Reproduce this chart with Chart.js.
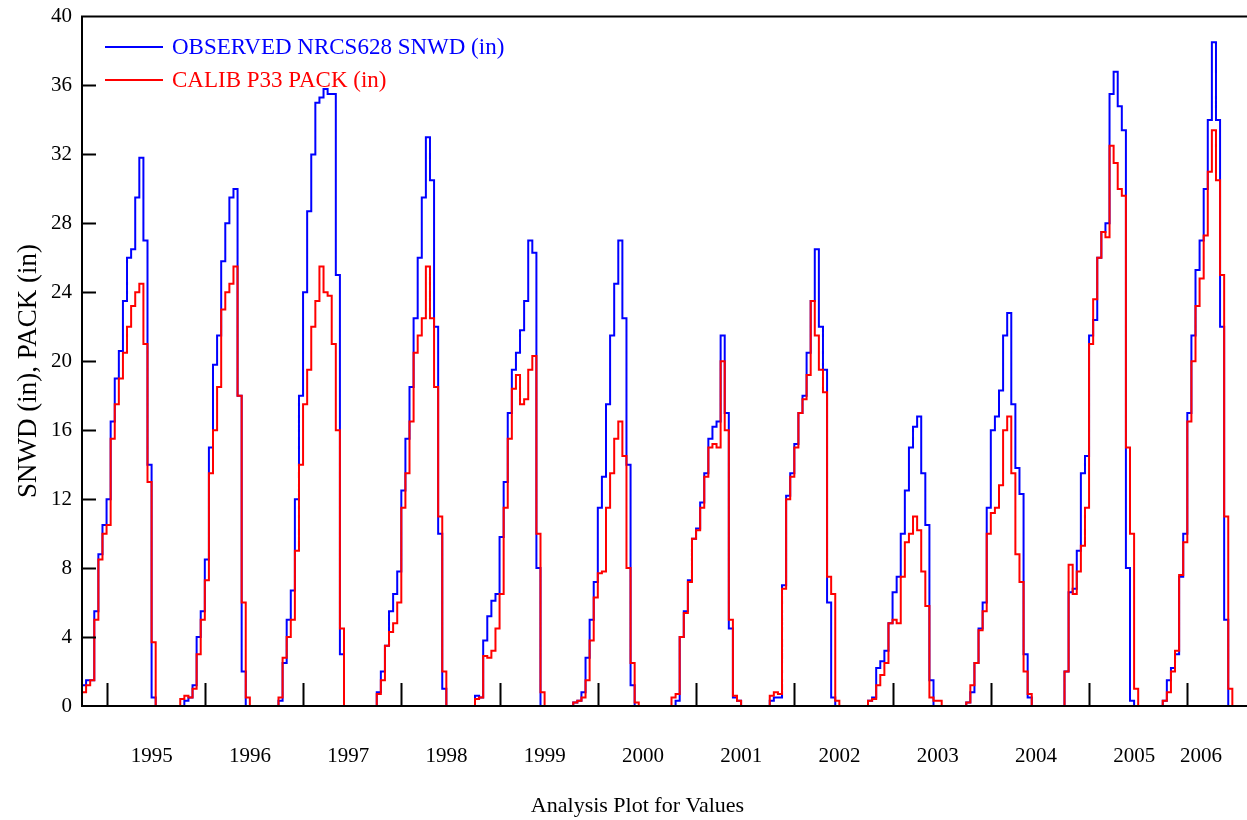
<!DOCTYPE html>
<html>
<head>
<meta charset="utf-8">
<title>SNWD vs PACK</title>
<script src="https://cdn.jsdelivr.net/npm/chart.js@4.4.1/dist/chart.umd.min.js"></script>
<style>
  html, body { margin: 0; padding: 0; background: #fff; overflow: hidden; }
  #wrap { width: 1275px; height: 820px; }
</style>
</head>
<body>
<div id="wrap"><canvas id="snowChart" width="1275" height="820"></canvas></div>
<script>
// water years shown (each season runs Oct 1 of previous year -> summer)
const waterYears = [1995, 1996, 1997, 1998, 1999, 2000, 2001, 2002, 2003, 2004, 2005, 2006];
const yearLabels = ['1995', '1996', '1997', '1998', '1999', '2000', '2001', '2002', '2003', '2004', '2005', '2006'];
const yearLabelAt = [1995.46, 1996.46, 1997.46, 1998.46, 1999.46, 2000.46, 2001.46, 2002.46, 2003.46, 2004.46, 2005.46, 2006.14];
const yTicks = [0, 4, 8, 12, 16, 20, 24, 28, 32, 36, 40];

// semi-monthly readings per season, starting Oct 1 (Oct 1, Oct 16, Nov 1, ...), inches
const observedSnwd = [
  [1.2, 1.5, 1.5, 5.5, 8.8, 10.5, 12, 16.5, 19, 20.6, 23.5, 26, 26.5, 29.5, 31.8, 27, 14, 0.5],
  [0, 0.3, 0.5, 1.2, 4.0, 5.5, 8.5, 15, 19.8, 21.5, 25.8, 28, 29.5, 30, 18, 2],
  [0.3, 2.5, 5, 6.7, 12, 18, 24, 28.7, 32, 35, 35.3, 35.8, 35.5, 35.5, 25, 3],
  [0.8, 2.0, 3.5, 5.5, 6.5, 7.8, 12.5, 15.5, 18.5, 22.5, 26, 29.5, 33, 30.5, 22, 10, 1],
  [0.6, 0.5, 3.8, 5.2, 6.1, 6.5, 9.8, 13, 17, 19.5, 20.5, 21.8, 23.5, 27, 26.3, 8, 0],
  [0.2, 0.3, 0.8, 2.8, 5.0, 7.2, 11.5, 13.3, 17.5, 21.5, 24.5, 27, 22.5, 14, 1.2],
  [0, 0.3, 4, 5.5, 7.3, 9.7, 10.3, 11.8, 13.5, 15.5, 16.2, 16.5, 21.5, 17, 4.5, 0.5, 0.3],
  [0.3, 0.5, 0.5, 7, 12.2, 13.5, 15.2, 17, 18, 20.5, 23.5, 26.5, 22, 19.5, 6, 0.5],
  [0.3, 0.5, 2.2, 2.6, 3.2, 4.8, 6.6, 7.5, 10.0, 12.5, 15.0, 16.2, 16.8, 13.5, 10.5, 1.5],
  [0.2, 0.8, 2.5, 4.5, 6.0, 11.5, 16.0, 16.8, 18.3, 21.5, 22.8, 17.5, 13.8, 12.3, 3, 0.5],
  [2.0, 6.6, 6.8, 9.0, 13.5, 14.5, 21.5, 22.4, 26, 27.5, 28, 35.5, 36.8, 34.8, 33.4, 8, 0.3],
  [0.3, 1.5, 2.2, 3.0, 7.5, 10, 17, 21.5, 25.3, 27, 30, 34, 38.5, 34, 22, 5]
];
const calibPack = [
  [0.8, 1.2, 1.5, 5.0, 8.5, 10.0, 10.5, 15.5, 17.5, 19.0, 20.5, 22.0, 23.2, 24.0, 24.5, 21.0, 13.0, 3.7],
  [0.4, 0.6, 0.5, 1.0, 3.0, 5.0, 7.3, 13.5, 16.0, 18.5, 23, 24, 24.5, 25.5, 18, 6, 0.5],
  [0.5, 2.8, 4.0, 5.0, 9.0, 14.0, 17.5, 19.5, 22.0, 23.5, 25.5, 24.0, 23.8, 21.0, 16.0, 4.5],
  [0.7, 1.5, 3.5, 4.3, 4.8, 6.0, 11.5, 13.5, 16.5, 20.5, 21.5, 22.5, 25.5, 22.5, 18.5, 11, 2],
  [0.4, 0.5, 2.9, 2.8, 3.2, 4.5, 6.5, 11.5, 15.5, 18.4, 19.2, 17.5, 17.8, 19.5, 20.3, 10, 0.8],
  [0.2, 0.3, 0.5, 1.5, 3.8, 6.3, 7.7, 7.8, 11.5, 13.5, 15.5, 16.5, 14.5, 8, 2.5, 0.2],
  [0.5, 0.7, 4, 5.4, 7.2, 9.7, 10.2, 11.5, 13.3, 15, 15.2, 15, 20, 16, 5, 0.6, 0.3],
  [0.6, 0.8, 0.7, 6.8, 12.0, 13.3, 15.0, 17.0, 17.8, 19.2, 23.5, 21.5, 19.5, 18.2, 7.5, 6.5, 0.3],
  [0.3, 0.4, 1.2, 1.8, 2.5, 4.8, 5.0, 4.8, 7.5, 9.5, 10.0, 11.0, 10.2, 7.8, 5.8, 0.5, 0.3, 0.3],
  [0.2, 1.2, 2.5, 4.4, 5.5, 10.0, 11.2, 11.5, 12.8, 16.0, 16.8, 13.5, 8.8, 7.2, 2, 0.7],
  [2.0, 8.2, 6.5, 7.8, 9.3, 11.5, 21, 23.6, 26, 27.5, 27.2, 32.5, 31.5, 30.0, 29.6, 15, 10, 1],
  [0.3, 0.8, 2.0, 3.2, 7.6, 9.5, 16.5, 20, 23.2, 24.8, 27.3, 31, 33.4, 30.5, 25, 11, 1]
];

// turn season readings into {x: decimal year, y} points
function seasonPoints(seasons) {
  const pts = [];
  seasons.forEach((vals, i) => {
    const start = waterYears[i] - 0.25; // Oct 1
    for (let k = 0; k < 20; k++) {
      pts.push({ x: start + k / 24, y: k < vals.length ? vals[k] : 0 });
    }
  });
  pts.push({ x: waterYears[waterYears.length - 1] + 0.75, y: 0 });
  return pts;
}

const serif = "'Liberation Serif', 'Times New Roman', serif";

// frame, inward ticks, legend and axis titles
const framePlugin = {
  id: 'frame',
  afterDraw(chart) {
    const { ctx, chartArea: a, scales } = chart;
    ctx.save();
    ctx.strokeStyle = '#000';
    ctx.lineWidth = 2;
    ctx.strokeRect(a.left, a.top, a.right - a.left, a.bottom - a.top);

    ctx.beginPath();
    yTicks.forEach(v => {
      if (v === 0 || v === 40) return;
      const y = Math.round(scales.y.getPixelForValue(v)) + 0.5;
      ctx.moveTo(a.left, y); ctx.lineTo(a.left + 14, y);
      ctx.moveTo(a.right, y); ctx.lineTo(a.right - 14, y);
    });
    waterYears.forEach(yr => {
      const x = Math.round(scales.x.getPixelForValue(yr)) + 0.5;
      ctx.moveTo(x, a.bottom); ctx.lineTo(x, a.bottom - 23);
    });
    ctx.stroke();

    // legend
    ctx.font = '23px ' + serif;
    ctx.textBaseline = 'middle';
    ctx.textAlign = 'left';
    const legendY = [47, 80];
    chart.data.datasets.forEach((ds, i) => {
      ctx.strokeStyle = ds.borderColor;
      ctx.lineWidth = 2;
      ctx.beginPath();
      ctx.moveTo(105, legendY[i]); ctx.lineTo(163, legendY[i]);
      ctx.stroke();
      ctx.fillStyle = ds.borderColor;
      ctx.fillText(ds.label, 172, legendY[i] + 1);
    });

    // axis titles
    ctx.fillStyle = '#000';
    ctx.textAlign = 'center';
    ctx.font = '22px ' + serif;
    ctx.fillText('Analysis Plot for Values', chart.width / 2, 806);
    ctx.translate(29, 371);
    ctx.rotate(-Math.PI / 2);
    ctx.font = '27px ' + serif;
    ctx.fillText('SNWD (in), PACK (in)', 0, 0);
    ctx.restore();
  }
};

new Chart(document.getElementById('snowChart'), {
  type: 'line',
  data: {
    datasets: [
      {
        label: 'OBSERVED NRCS628 SNWD (in)',
        data: seasonPoints(observedSnwd),
        borderColor: '#0000ff',
        borderWidth: 2,
        stepped: true,
        pointRadius: 0,
        fill: false,
        order: 1
      },
      {
        label: 'CALIB P33 PACK (in)',
        data: seasonPoints(calibPack),
        borderColor: '#ff0000',
        borderWidth: 2,
        stepped: true,
        pointRadius: 0,
        fill: false,
        order: 0
      }
    ]
  },
  options: {
    responsive: false,
    animation: false,
    layout: { padding: { top: 16.5, right: 14, left: 0, bottom: 0 } },
    plugins: { legend: { display: false }, tooltip: { enabled: false } },
    scales: {
      x: {
        type: 'linear',
        min: 1994.75,
        max: 2006.75,
        grid: { display: false },
        border: { display: false },
        afterBuildTicks: axis => { axis.ticks = yearLabelAt.map(v => ({ value: v })); },
        afterFit: axis => { axis.height = 114; },
        ticks: {
          autoSkip: false,
          maxRotation: 0,
          padding: 30,
          color: '#000',
          font: { family: serif, size: 21 },
          callback: (v, i) => yearLabels[i]
        }
      },
      y: {
        min: 0,
        max: 40,
        grid: { display: false },
        border: { display: false },
        afterBuildTicks: axis => { axis.ticks = yTicks.map(v => ({ value: v })); },
        afterFit: axis => { axis.width = 82; },
        ticks: {
          padding: 2,
          color: '#000',
          font: { family: serif, size: 21 }
        }
      }
    }
  },
  plugins: [framePlugin]
});
</script>
</body>
</html>
